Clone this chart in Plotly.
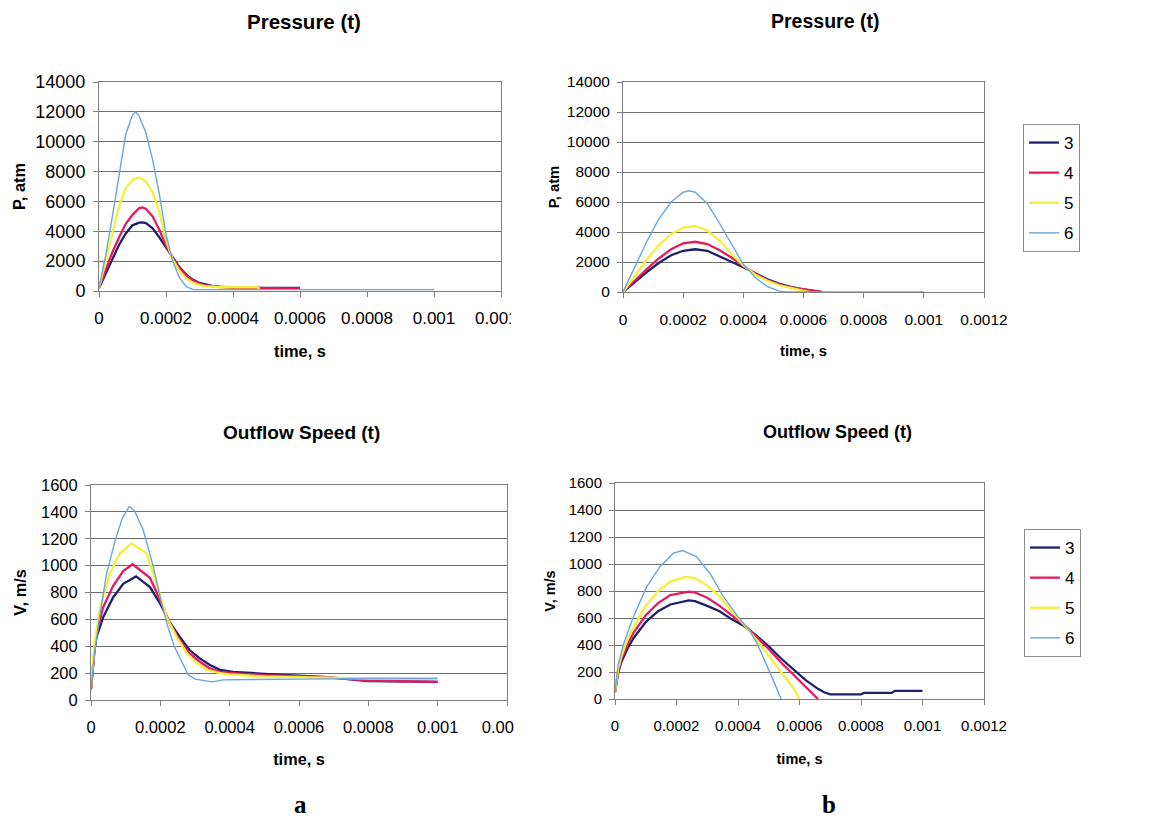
import plotly.graph_objects as go

# ---------------- data ----------------
series_names = ["3", "4", "5", "6"]
series_colors = ["#1f1f6e", "#e31b5f", "#f4ef3a", "#6ba6da"]
series_widths = [2.3, 2.3, 2.3, 1.4]

x_tickvals = [0, 0.0002, 0.0004, 0.0006, 0.0008, 0.001, 0.0012]
x_ticktext = ["0", "0.0002", "0.0004", "0.0006", "0.0008", "0.001", "0.0012"]

# Pressure, case a (atm)
t_pa3 = [0, 2e-5, 4e-5, 6e-5, 8e-5, 1e-4, 1.2e-4, 1.3e-4, 1.4e-4, 1.6e-4, 1.8e-4, 2e-4, 2.2e-4,
         2.4e-4, 2.6e-4, 2.8e-4, 3e-4, 3.2e-4, 3.4e-4, 3.6e-4, 3.8e-4, 4e-4, 5e-4, 5.8e-4, 6e-4]
p_a3 = [200, 1200, 2200, 3100, 3850, 4400, 4580, 4600, 4550, 4200, 3600, 2950, 2250,
        1600, 1100, 760, 540, 410, 330, 290, 260, 230, 200, 240, 200]
t_pa4 = t_pa3
p_a4 = [200, 1400, 2600, 3600, 4500, 5100, 5550, 5600, 5500, 5000, 4100, 3050, 2200,
        1550, 1050, 720, 500, 370, 300, 260, 240, 220, 190, 180, 180]
t_pa5 = [0, 2e-5, 4e-5, 6e-5, 8e-5, 1e-4, 1.2e-4, 1.4e-4, 1.6e-4, 1.8e-4, 2e-4, 2.2e-4, 2.4e-4,
         2.6e-4, 2.8e-4, 3e-4, 3.2e-4, 3.4e-4, 3.6e-4, 4e-4, 4.7e-4, 4.8e-4]
p_a5 = [200, 2000, 3900, 5700, 6900, 7450, 7600, 7350, 6600, 5300, 3400, 2100, 1350,
        850, 560, 400, 320, 270, 250, 250, 250, 150]
t_pa6 = [0, 2e-5, 4e-5, 6e-5, 8e-5, 1e-4, 1.1e-4, 1.2e-4, 1.4e-4, 1.6e-4, 1.8e-4, 2e-4, 2.2e-4,
         2.4e-4, 2.6e-4, 2.8e-4, 3e-4, 1e-3]
p_a6 = [200, 2400, 5000, 7900, 10500, 11800, 12000, 11700, 10600, 8800, 6500, 3800, 2000,
        900, 300, 100, 90, 90]

# Pressure, case b (atm)
t_pb3 = [0, 4e-5, 8e-5, 1.2e-4, 1.6e-4, 2e-4, 2.4e-4, 2.8e-4, 3.2e-4, 3.6e-4, 4e-4, 4.4e-4,
         4.8e-4, 5.2e-4, 5.6e-4, 6e-4, 6.4e-4, 6.6e-4]
p_b3 = [0, 700, 1350, 1950, 2450, 2750, 2850, 2750, 2400, 2000, 1650, 1250,
        850, 550, 330, 170, 70, 0]
t_pb4 = t_pb3
p_b4 = [0, 800, 1550, 2250, 2850, 3250, 3350, 3200, 2800, 2300, 1750, 1200,
        800, 500, 300, 150, 50, 0]
t_pb5 = [0, 4e-5, 8e-5, 1.2e-4, 1.6e-4, 2e-4, 2.4e-4, 2.8e-4, 3.2e-4, 3.6e-4, 4e-4, 4.4e-4,
         4.8e-4, 5.2e-4, 5.6e-4, 6e-4, 6.2e-4]
p_b5 = [0, 1100, 2200, 3150, 3850, 4300, 4400, 4100, 3450, 2550, 1750, 1150,
        750, 450, 250, 80, 0]
t_pb6 = [0, 4e-5, 8e-5, 1.2e-4, 1.6e-4, 2e-4, 2.2e-4, 2.4e-4, 2.8e-4, 3.2e-4, 3.6e-4, 4e-4,
         4.4e-4, 4.8e-4, 5.2e-4, 5.4e-4, 1e-3]
p_b6 = [0, 1700, 3400, 4900, 6000, 6650, 6750, 6650, 5900, 4600, 3200, 1850,
        950, 350, 60, 0, 0]

# Outflow speed, case a (m/s)
t_va3 = [0, 1e-5, 1.6e-5, 3.5e-5, 6.4e-5, 9.3e-5, 1.3e-4, 1.7e-4, 2e-4, 2.27e-4, 2.56e-4, 2.85e-4,
         3.14e-4, 3.43e-4, 3.72e-4, 4.1e-4, 5e-4, 6e-4, 6.8e-4, 8e-4, 9e-4, 1e-3]
v_a3 = [80, 370, 470, 615, 765, 865, 920, 840, 715, 580, 470, 370,
        310, 260, 225, 210, 195, 180, 170, 140, 140, 135]
t_va4 = [0, 1e-5, 1.6e-5, 3.5e-5, 6.4e-5, 9.3e-5, 1.2e-4, 1.7e-4, 2e-4, 2.27e-4, 2.56e-4, 2.85e-4,
         3.14e-4, 3.43e-4, 3.72e-4, 4.1e-4, 5e-4, 6e-4, 6.8e-4, 8e-4, 9e-4, 1e-3]
v_a4 = [80, 380, 490, 690, 850, 960, 1010, 910, 740, 570, 445, 345,
        285, 235, 210, 200, 185, 175, 170, 145, 140, 135]
t_va5 = [0, 1e-5, 2.5e-5, 5.4e-5, 8.3e-5, 1.17e-4, 1.6e-4, 1.89e-4, 2.18e-4, 2.47e-4, 2.76e-4,
         3.05e-4, 3.34e-4, 3.72e-4, 4e-4, 5e-4, 6e-4, 8e-4, 1e-3]
v_a5 = [100, 420, 670, 940, 1090, 1165, 1090, 870, 620, 470, 350,
        275, 225, 200, 190, 175, 170, 160, 160]
t_va6 = [0, 1e-5, 2.5e-5, 4.5e-5, 7e-5, 9e-5, 1.1e-4, 1.25e-4, 1.5e-4, 1.8e-4, 2e-4, 2.2e-4,
         2.4e-4, 2.6e-4, 2.8e-4, 3e-4, 3.5e-4, 3.8e-4, 4e-4, 6e-4, 8e-4, 1e-3]
v_a6 = [80, 350, 620, 940, 1190, 1350, 1440, 1410, 1270, 990, 760, 560,
        400, 290, 190, 155, 135, 150, 150, 155, 160, 160]

# Outflow speed, case b (m/s)
t_vb3 = [0, 1e-5, 2e-5, 4e-5, 6e-5, 1e-4, 1.4e-4, 1.8e-4, 2.4e-4, 2.6e-4, 3e-4, 3.4e-4, 3.8e-4,
         4.2e-4, 4.6e-4, 5e-4, 5.4e-4, 5.8e-4, 6.2e-4, 6.6e-4, 6.8e-4, 7e-4, 8e-4, 8.1e-4,
         9e-4, 9.1e-4, 1e-3]
v_b3 = [50, 190, 270, 370, 450, 570, 650, 700, 730, 725, 690, 650, 590,
        540, 470, 390, 300, 220, 140, 75, 50, 35, 35, 45,
        45, 60, 60]
t_vb4 = [0, 1e-5, 2e-5, 4e-5, 6e-5, 1e-4, 1.4e-4, 1.8e-4, 2.4e-4, 2.6e-4, 3e-4, 3.4e-4, 3.8e-4,
         4.2e-4, 4.6e-4, 5e-4, 5.4e-4, 5.8e-4, 6.2e-4, 6.6e-4]
v_b4 = [50, 200, 290, 400, 490, 620, 710, 770, 795, 790, 750, 690, 620,
        550, 460, 370, 270, 180, 90, 0]
t_vb5 = [0, 1e-5, 2e-5, 4e-5, 6e-5, 1e-4, 1.4e-4, 1.8e-4, 2.3e-4, 2.6e-4, 3e-4, 3.4e-4, 3.8e-4,
         4.2e-4, 4.6e-4, 5e-4, 5.4e-4, 5.8e-4, 6e-4]
v_b5 = [50, 220, 310, 440, 530, 690, 800, 870, 905, 895, 840, 760, 650,
        550, 440, 320, 200, 80, 0]
t_vb6 = [0, 1e-5, 2.7e-5, 6e-5, 1.03e-4, 1.46e-4, 1.9e-4, 2.2e-4, 2.65e-4, 3.09e-4, 3.52e-4,
         4e-4, 4.4e-4, 4.6e-4, 4.8e-4, 5e-4, 5.2e-4, 5.4e-4]
v_b6 = [50, 250, 400, 610, 830, 980, 1080, 1100, 1055, 930, 760,
        610, 500, 420, 320, 220, 110, 0]

# ---------------- figure ----------------
W, H = 1155, 820
FONT = "Liberation Sans, Arial, sans-serif"
AXIS_GRAY = "#7f7f7f"
GRID = "#6e6e6e"


def fx(px):
    return px / W


def fy(py):
    return 1 - py / H


fig = go.Figure()

panels = [
    # (axis suffix, series list, legend id or None)
    ("", [(t_pa3, p_a3), (t_pa4, p_a4), (t_pa5, p_a5), (t_pa6, p_a6)], None),
    ("2", [(t_pb3, p_b3), (t_pb4, p_b4), (t_pb5, p_b5), (t_pb6, p_b6)], "legend"),
    ("3", [(t_va3, v_a3), (t_va4, v_a4), (t_va5, v_a5), (t_va6, v_a6)], None),
    ("4", [(t_vb3, v_b3), (t_vb4, v_b4), (t_vb5, v_b5), (t_vb6, v_b6)], "legend2"),
]

for suffix, series, leg in panels:
    for i, (t, v) in enumerate(series):
        fig.add_trace(go.Scatter(
            x=t, y=v, mode="lines", name=series_names[i],
            line=dict(color=series_colors[i], width=series_widths[i]),
            xaxis="x" + suffix, yaxis="y" + suffix,
            showlegend=leg is not None,
            legend=leg if leg else "legend",
            legendgroup=(leg or "none") + series_names[i],
        ))

# per-chart geometry: plot area (px), font sizes, title gaps
domains = {
    "": ([99, 501], [82, 291]),
    "2": ([623, 984], [82, 292]),
    "3": ([91, 507], [485, 700]),
    "4": ([615, 984], [483, 699]),
}
y_ranges = {"": [0, 14000], "2": [0, 14000], "3": [0, 1600], "4": [0, 1600]}
y_dticks = {"": 2000, "2": 2000, "3": 200, "4": 200}
y_titles = {"": "P, atm", "2": "P, atm", "3": "V, m/s", "4": "V, m/s"}
x_tick_size = {"": 17, "2": 15.5, "3": 16.5, "4": 15}
y_tick_size = {"": 18, "2": 15.5, "3": 16.5, "4": 15}
title_size = {"": 16.4, "2": 14.8, "3": 16.3, "4": 14.5}
x_label_gap = {"": 7, "2": 8, "3": 7, "4": 8}
x_title_gap = {"": 18, "2": 19, "3": 18, "4": 20}
y_title_gap = {"": 5, "2": 3, "3": 10, "4": 9}

layout = dict(
    width=W, height=H,
    margin=dict(l=0, r=0, t=0, b=0, autoexpand=False),
    paper_bgcolor="white", plot_bgcolor="white",
    font=dict(family=FONT, size=17, color="black"),
)

for s, (xd, yd) in domains.items():
    layout["xaxis" + s] = dict(
        domain=[fx(xd[0]), fx(xd[1])],
        anchor="y" + s, automargin=False,
        range=[0, 0.0012],
        tickmode="array", tickvals=x_tickvals, ticktext=x_ticktext,
        ticks="outside", ticklen=5, tickcolor=AXIS_GRAY, tickwidth=1,
        ticklabelstandoff=x_label_gap[s],
        showline=True, linecolor=AXIS_GRAY, linewidth=1, mirror=True,
        showgrid=False, zeroline=False,
        tickfont=dict(size=x_tick_size[s]),
        title=dict(text="<b>time, s</b>", font=dict(size=title_size[s]),
                   standoff=x_title_gap[s]),
    )
    layout["yaxis" + s] = dict(
        domain=[fy(yd[1]), fy(yd[0])],
        anchor="x" + s, automargin=False,
        range=y_ranges[s], dtick=y_dticks[s], tickformat="d",
        ticks="outside", ticklen=5, tickcolor=AXIS_GRAY, tickwidth=1,
        ticklabelstandoff=4,
        showline=True, linecolor=AXIS_GRAY, linewidth=1, mirror=True,
        showgrid=True, gridcolor=GRID, gridwidth=1, zeroline=False,
        tickfont=dict(size=y_tick_size[s]),
        title=dict(text="<b>%s</b>" % y_titles[s], font=dict(size=title_size[s]),
                   standoff=y_title_gap[s]),
    )

legend_common = dict(
    xanchor="left", yanchor="top",
    bgcolor="white", bordercolor="#8c8c8c", borderwidth=1,
    font=dict(size=17), traceorder="grouped", tracegroupgap=5,
)
layout["legend"] = dict(x=fx(1023), y=fy(124), **legend_common)
layout["legend2"] = dict(x=fx(1024), y=fy(529), **legend_common)

annotations = []
titles = [("Pressure (t)", 304, 21, 20.5), ("Pressure (t)", 825, 21, 19.5),
          ("Outflow Speed (t)", 301, 432, 19), ("Outflow Speed (t)", 838, 432, 18)]
for text, x, y, size in titles:
    annotations.append(dict(
        text="<b>%s</b>" % text, x=fx(x), y=fy(y), xref="paper", yref="paper",
        xanchor="center", yanchor="middle", showarrow=False,
        font=dict(size=size, family=FONT),
    ))
for text, x in [("a", 300), ("b", 829)]:
    annotations.append(dict(
        text="<b>%s</b>" % text, x=fx(x), y=fy(804), xref="paper", yref="paper",
        xanchor="center", yanchor="middle", showarrow=False,
        font=dict(size=25, family="Liberation Serif, Times New Roman, serif"),
    ))
layout["annotations"] = annotations

# the left charts' last tick label runs past the chart edge and is cut off
layout["shapes"] = [
    dict(type="rect", xref="paper", yref="paper", layer="above",
         x0=fx(511), x1=fx(560), y0=fy(340), y1=fy(302),
         fillcolor="white", line=dict(width=0)),
    dict(type="rect", xref="paper", yref="paper", layer="above",
         x0=fx(514), x1=fx(560), y0=fy(746), y1=fy(708),
         fillcolor="white", line=dict(width=0)),
]

fig.update_layout(**layout)
fig.write_html("out.html")
